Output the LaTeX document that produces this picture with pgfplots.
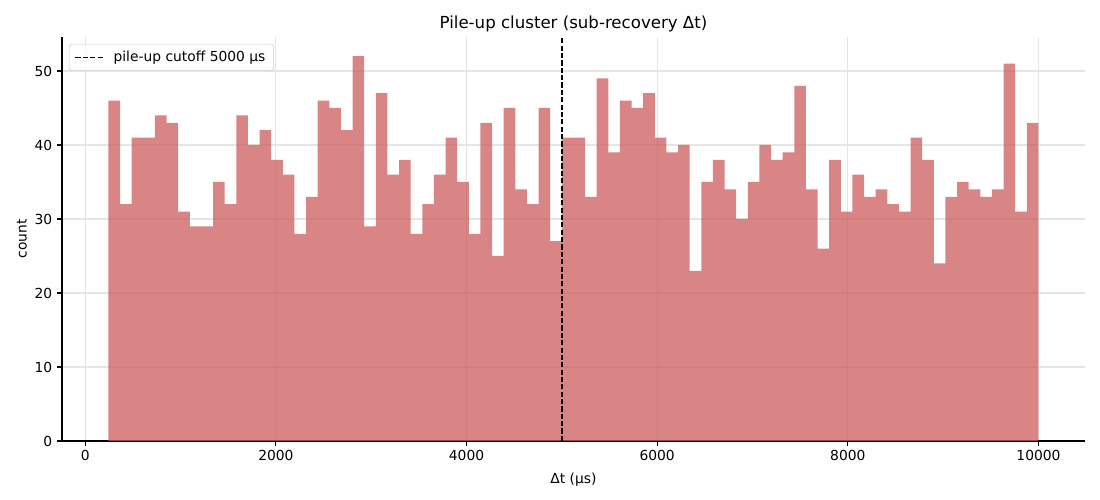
\documentclass[border=0pt]{standalone}
\usepackage{fontspec}
\setmainfont{DejaVu Sans}
\usepackage{pgfplots}
\pgfplotsset{compat=1.18}
\definecolor{barred}{RGB}{205,92,92}
\begin{document}
\begin{tikzpicture}
\begin{axis}[
  at={(0,0)}, anchor=south west,
  scale only axis,
  width=736.6bp, height=290.9bp,
  xmin=-244, xmax=10488, ymin=0, ymax=54.6,
  axis x line*=bottom, axis y line*=left,
  axis line style={-, line width=0.8bp},
  xtick={0,2000,4000,6000,8000,10000},
  ytick={0,10,20,30,40,50},
  scaled ticks=false,
  /pgf/number format/1000 sep={},
  /pgf/number format/assume math mode=true,
  tick align=outside,
  major tick length=3.5bp,
  tick style={black, line width=0.8bp},
  ticklabel style={font=\fontsize{10}{12}\selectfont},
  grid=major,
  major grid style={color=black!10, line width=0.8bp},
  title={Pile-up cluster (sub-recovery Δt)},
  title style={font=\fontsize{12}{14}\selectfont, yshift=-5.8bp},
  xlabel={Δt (μs)},
  ylabel={count},
  label style={font=\fontsize{10}{12}\selectfont},
  xlabel style={at={(axis description cs:0.5,0)}, anchor=center, yshift=-28bp},
  ylabel style={at={(axis description cs:0,0.5)}, anchor=center, rotate=0, yshift=28.8bp},
  legend style={at={(0.0068,0.983)}, anchor=north west, draw=black!20, fill=white, fill opacity=0.8, text opacity=1, rounded corners=2bp, font=\fontsize{10}{12}\selectfont, inner xsep=4bp, inner ysep=3bp, row sep=0bp},
  legend cell align=left,
]
\addplot[ybar interval, fill=barred, fill opacity=0.75, draw=none, forget plot] coordinates {
(244.0,46) (365.95,32) (487.9,41) (609.85,41) (731.8,44) (853.75,43) (975.7,31) (1097.65,29) (1219.6,29) (1341.55,35)
(1463.5,32) (1585.45,44) (1707.4,40) (1829.35,42) (1951.3,38) (2073.25,36) (2195.2,28) (2317.15,33) (2439.1,46) (2561.05,45)
(2683.0,42) (2804.95,52) (2926.9,29) (3048.85,47) (3170.8,36) (3292.75,38) (3414.7,28) (3536.65,32) (3658.6,36) (3780.55,41)
(3902.5,35) (4024.45,28) (4146.4,43) (4268.35,25) (4390.3,45) (4512.25,34) (4634.2,32) (4756.15,45) (4878.1,27) (5000.05,41)
(5122.0,41) (5243.95,33) (5365.9,49) (5487.85,39) (5609.8,46) (5731.75,45) (5853.7,47) (5975.65,41) (6097.6,39) (6219.55,40)
(6341.5,23) (6463.45,35) (6585.4,38) (6707.35,34) (6829.3,30) (6951.25,35) (7073.2,40) (7195.15,38) (7317.1,39) (7439.05,48)
(7561.0,34) (7682.95,26) (7804.9,38) (7926.85,31) (8048.8,36) (8170.75,33) (8292.7,34) (8414.65,32) (8536.6,31) (8658.55,41)
(8780.5,38) (8902.45,24) (9024.4,33) (9146.35,35) (9268.3,34) (9390.25,33) (9512.2,34) (9634.15,51) (9756.1,31) (9878.05,43)
(10000.0,43)
};
\addplot[black, line width=1bp, dash pattern=on 3.7bp off 1.6bp, legend image code/.code={\draw[black, line width=1bp, dash pattern=on 3.7bp off 1.6bp] (0bp,0bp) -- (20bp,0bp);}] coordinates {(5000,0) (5000,54.6)};
\addlegendentry{\hspace{5bp}pile-up cutoff 5000 μs}
\end{axis}
\pgfresetboundingbox
\path[use as bounding box] (-44.6bp,-42.5bp) rectangle (747.4bp,317.5bp);
\end{tikzpicture}
\end{document}
